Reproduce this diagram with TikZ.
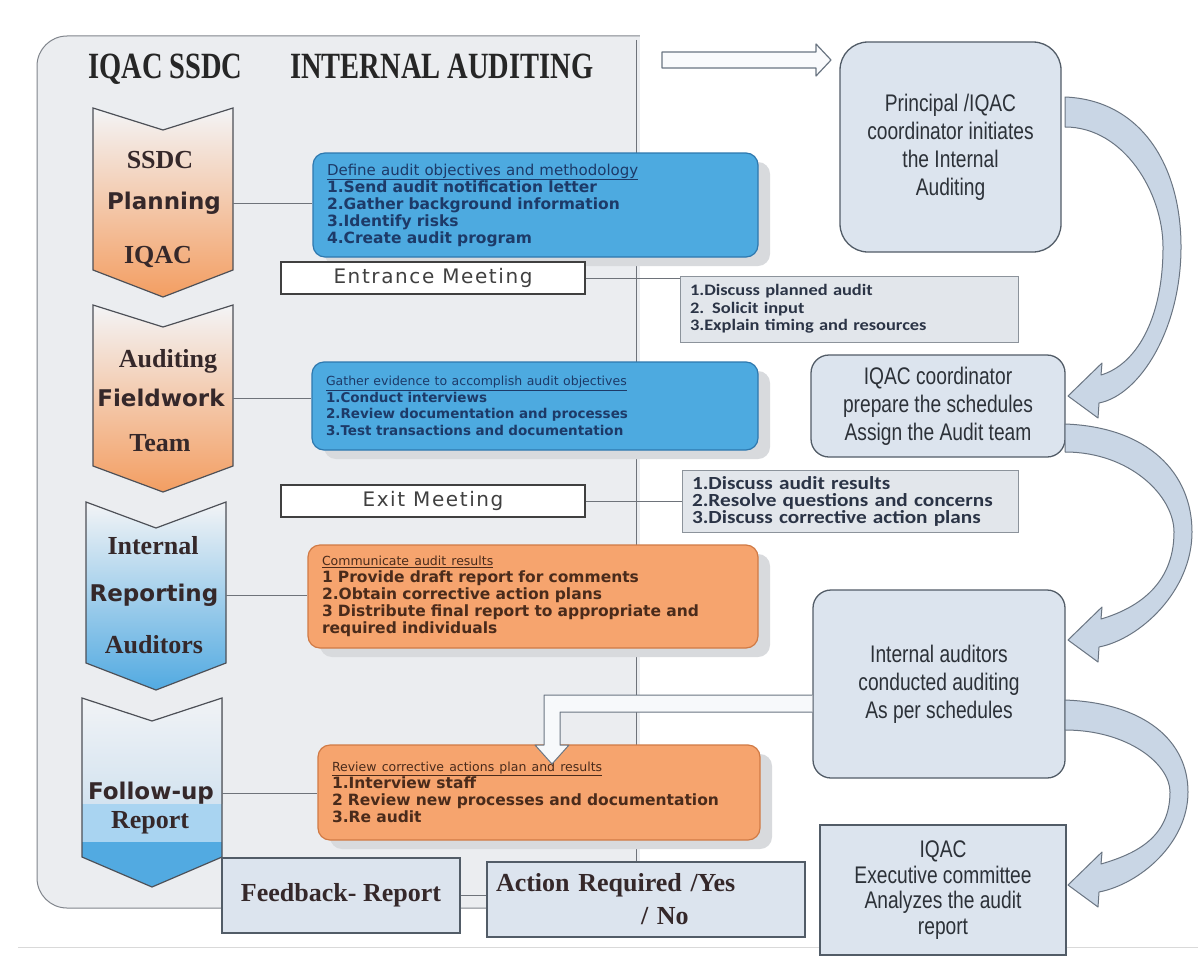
\documentclass[tikz,border=0pt]{standalone}
\usepackage{fontspec}
\setmainfont{Liberation Serif}
\newfontfamily\headfont[FakeStretch=0.77]{Liberation Serif}
\newfontfamily\verdfont{DejaVu Sans}
\newfontfamily\meetfont[LetterSpace=8]{DejaVu Sans}
\newfontfamily\calfont[FakeStretch=1.15]{Carlito}
\newfontfamily\narrowfont[FakeStretch=0.8]{Liberation Sans}
\usetikzlibrary{shadows}

\definecolor{panelgray}{HTML}{EBEDF0}
\definecolor{panelline}{HTML}{80858C}
\definecolor{boxblue}{HTML}{4DAAE0}
\definecolor{boxblueline}{HTML}{2E78AE}
\definecolor{bluetext}{HTML}{1D3A68}
\definecolor{boxorange}{HTML}{F6A46E}
\definecolor{boxorangeline}{HTML}{D07A45}
\definecolor{orangetext}{HTML}{4A2B1B}
\definecolor{shadowgray}{HTML}{D8DADD}
\definecolor{notegray}{HTML}{E2E6EB}
\definecolor{noteline}{HTML}{8C939B}
\definecolor{notetext}{HTML}{2B3446}
\definecolor{stagefill}{HTML}{DCE4EE}
\definecolor{stageline}{HTML}{525C67}
\definecolor{stagetext}{HTML}{2C3138}
\definecolor{chevtop}{HTML}{F3F4F6}
\definecolor{chevpeach}{HTML}{F7D4BA}
\definecolor{chevorange}{HTML}{F39E62}
\definecolor{chevsky}{HTML}{D3E3F0}
\definecolor{chevblue}{HTML}{52AAE1}
\definecolor{chevband}{HTML}{A9D4F1}
\definecolor{chevline}{HTML}{4D5057}
\definecolor{labeldark}{HTML}{35282A}
\definecolor{bendfill}{HTML}{C9D6E5}
\definecolor{bendline}{HTML}{6A7582}
\definecolor{linkgray}{HTML}{6E737A}

\begin{document}
\begin{tikzpicture}[x=1pt,y=-1pt,
	link/.style={draw=linkgray,line width=0.9pt},
	chevserif/.style={font=\bfseries\fontsize{26}{28}\selectfont,text=labeldark,inner sep=0pt},
	chevsans/.style={font=\verdfont\bfseries\fontsize{23}{25}\selectfont,text=labeldark,inner sep=0pt},
	listbox/.style={rounded corners=12pt,line width=1.2pt,align=left,inner xsep=14pt,inner ysep=0pt,
		font=\verdfont\bfseries\fontsize{15.5}{17}\selectfont,
		drop shadow={shadow xshift=12pt,shadow yshift=-9pt,fill=shadowgray,opacity=1}},
	bluebox/.style={listbox,fill=boxblue,draw=boxblueline,text=bluetext},
	orangebox/.style={listbox,fill=boxorange,draw=boxorangeline,text=orangetext},
	notebox/.style={fill=notegray,draw=noteline,line width=1pt,align=left,inner xsep=10pt,inner ysep=0pt,
		font=\calfont\bfseries\fontsize{16}{17.5}\selectfont,text=notetext},
	meetbox/.style={fill=white,draw=black!75,line width=1.2pt,inner sep=0pt,
		font=\meetfont\fontsize{20}{22}\selectfont,text=black!75,minimum width=304pt,minimum height=32pt},
	stagebox/.style={fill=stagefill,draw=stageline,line width=1.3pt,rounded corners=18pt,align=center,inner sep=0pt,
		font=\narrowfont\fontsize{24}{28}\selectfont,text=stagetext},
	reportbox/.style={fill=stagefill,draw=stageline,line width=1.2pt,inner sep=0pt,
		font=\bfseries\fontsize{26}{33}\selectfont,text=labeldark},
	bentarrow/.style={fill=bendfill,draw=bendline,line width=1pt,line join=round},
	head/.style={anchor=base west,inner sep=0pt,font=\headfont\bfseries\fontsize{37}{40}\selectfont,text=black!85}]
	\useasboundingbox (0,0) rectangle (1198,958);
	\fill[white] (0,0) rectangle (1198,958);
	\draw[black!15,line width=1pt] (18,947)--(1198,947);
	\filldraw[fill=panelgray,draw=panelline,line width=1pt,rounded corners=30pt] (37,36) rectangle (690,908);
	\fill[white] (640,30) rectangle (700,915);
	\node[head] (iqac) at (88,78) {IQAC SSDC};
	\node[head] (title) at (290,78) {INTERNAL AUDITING};
	\coordinate (trunktop) at (636,40);
	\coordinate (trunkbot) at (636,862);
	\draw[link] (trunktop)--(trunkbot);
	\draw[draw=chevline,line width=1.2pt,top color=chevtop,middle color=chevpeach,bottom color=chevorange]
		(93,108)--(163,130)--(233,108)--(233,270)--(163,297)--(93,270)--cycle;
	\draw[draw=chevline,line width=1.2pt,top color=chevtop,middle color=chevpeach,bottom color=chevorange]
		(93,305)--(163,327)--(233,305)--(233,466)--(163,492)--(93,466)--cycle;
	\draw[draw=chevline,line width=1.2pt,top color=chevtop,middle color=chevsky,bottom color=chevblue]
		(86,502)--(156,528)--(226,502)--(226,663)--(156,690)--(86,663)--cycle;
	\begin{scope}
		\clip (82,698)--(152,721)--(222,698)--(222,857)--(152,887)--(82,857)--cycle;
		\fill[top color=chevtop,bottom color=chevsky] (80,690) rectangle (230,804);
		\fill[chevband] (80,804) rectangle (230,842);
		\fill[chevblue] (80,842) rectangle (230,890);
	\end{scope}
	\draw[draw=chevline,line width=1.2pt] (82,698)--(152,721)--(222,698)--(222,857)--(152,887)--(82,857)--cycle;
	\node[chevserif] (ssdc) at (160,160) {SSDC};
	\node[chevsans] (planning) at (164,203) {Planning};
	\node[chevserif] (iqacA) at (158,257) {IQAC};
	\node[chevserif] (auditing) at (168,361) {Auditing};
	\node[chevsans] (fieldwork) at (161,398) {Fieldwork};
	\node[chevserif] (team) at (160,443) {Team};
	\node[chevserif] (internal) at (153,546) {Internal};
	\node[chevsans] (reporting) at (154,595) {Reporting};
	\node[chevserif] (auditors) at (154,645) {Auditors};
	\node[chevsans] (followup) at (151,793) {Follow-up};
	\node[chevserif] (report) at (150,823) {Report};
	\node[bluebox,text width=417pt,minimum height=104pt] (define) at (535.5,205)
		{{\mdseries\fontsize{15}{17}\selectfont\underline{Define audit objectives and methodology}}\\1.Send audit notification letter\\2.Gather background information\\3.Identify risks\\4.Create audit program};
	\node[meetbox] (entrance) at (433,278) {Entrance Meeting};
	\node[notebox,text width=318pt,minimum height=66pt] (plannote) at (849,309)
		{1.Discuss planned audit\\2. Solicit input\\3.Explain timing and resources};
	\node[bluebox,text width=418pt,minimum height=88pt,font=\verdfont\bfseries\fontsize{13.5}{16.5}\selectfont] (gather) at (535,406)
		{{\mdseries\fontsize{12.5}{16.5}\selectfont\underline{Gather evidence to accomplish audit objectives}}\\1.Conduct interviews\\2.Review documentation and processes\\3.Test transactions and documentation};
	\node[meetbox] (exit) at (433,501) {Exit Meeting};
	\node[notebox,text width=316pt,minimum height=62pt,font=\calfont\bfseries\fontsize{18.5}{17}\selectfont] (exitnote) at (850,501)
		{1.Discuss audit results\\2.Resolve questions and concerns\\3.Discuss corrective action plans};
	\node[orangebox,text width=422pt,minimum height=103pt] (communicate) at (533,596.5)
		{{\mdseries\fontsize{12.5}{17}\selectfont\underline{Communicate audit results}}\\1 Provide draft report for comments\\2.Obtain corrective action plans\\3 Distribute final report to appropriate and\\required individuals};
	\node[orangebox,text width=414pt,minimum height=95pt] (review) at (539,792.5)
		{{\mdseries\fontsize{12.5}{17}\selectfont\underline{Review corrective actions plan and results}}\\1.Interview staff\\2 Review new processes and documentation\\3.Re audit};
	\node[reportbox,minimum width=238pt,minimum height=75pt] (feedback) at (341,895.5) {Feedback- Report};
	\node[reportbox,minimum width=318pt,minimum height=75pt,text width=300pt,align=left] (action) at (646,899.5)
		{Action Required /Yes\\\hspace*{145pt}/ No};
	\node[stagebox,rounded corners=28pt,minimum width=221pt,minimum height=210pt] (princ) at (950.5,147)
		{Principal /IQAC\\coordinator initiates\\the Internal\\Auditing};
	\node[stagebox,minimum width=254pt,minimum height=102pt] (coord) at (938,406)
		{IQAC coordinator\\prepare the schedules\\Assign the Audit team};
	\node[stagebox,minimum width=252pt,minimum height=188pt] (intaud) at (939,684)
		{Internal auditors\\conducted auditing\\As per schedules};
	\node[stagebox,sharp corners,minimum width=246pt,minimum height=130pt,font=\narrowfont\fontsize{24}{25.5}\selectfont] (exec) at (943,890)
		{IQAC\\Executive committee\\Analyzes the audit\\report};
	\coordinate (planR) at (233,203);
	\coordinate (fieldR) at (233,398);
	\coordinate (reportR) at (226,595);
	\coordinate (followR) at (222,793);
	\draw[link] (planR)--(planR -| define.west);
	\draw[link] (fieldR)--(fieldR -| gather.west);
	\draw[link] (reportR)--(reportR -| communicate.west);
	\draw[link] (followR)--(followR -| review.west);
	\draw[link] (entrance.east)--(entrance.east -| plannote.west);
	\draw[link] (exit.east)--(exit.east -| exitnote.west);
	\draw[link] (feedback.east)--(feedback.east -| action.west);
	\draw[fill=white!88!bendfill,draw=bendline,line width=1.2pt,line join=round]
		(662,52)--(816,52)--(816,44)--(831,60)--(816,76)--(816,68)--(662,68)--cycle;
	\draw[fill=white!85!bendfill,draw=bendline,line width=1pt,line join=round]
		(intaud.west |- 0,695)--(544,695)--(544,745)--(535,745)--(552,764)--(569,745)--(560,745)--(560,712)--(intaud.west |- 0,712);
	\draw[bentarrow] (1065,97) .. controls (1140,100) and (1181,164) .. (1181,247)
		.. controls (1181,329) and (1140,395) .. (1099,403)--(1098,418)--(1068,396)--(1102,363)--(1101,375)
		.. controls (1135,365) and (1163,321) .. (1163,247) .. controls (1163,193) and (1124,127) .. (1065,127)--cycle;
	\draw[bentarrow] (1065,424) .. controls (1148,427) and (1192,473) .. (1192,532)
		.. controls (1192,591) and (1140,639) .. (1099,647)--(1098,662)--(1068,640)--(1102,607)--(1101,619)
		.. controls (1135,609) and (1174,586) .. (1174,532) .. controls (1174,496) and (1130,452) .. (1065,452)--cycle;
	\draw[bentarrow] (1065,700) .. controls (1145,703) and (1188,741) .. (1188,792)
		.. controls (1188,843) and (1140,884) .. (1099,892)--(1098,907)--(1068,885)--(1102,852)--(1101,864)
		.. controls (1135,854) and (1170,838) .. (1170,792) .. controls (1170,764) and (1128,730) .. (1065,730)--cycle;
\end{tikzpicture}
\end{document}
